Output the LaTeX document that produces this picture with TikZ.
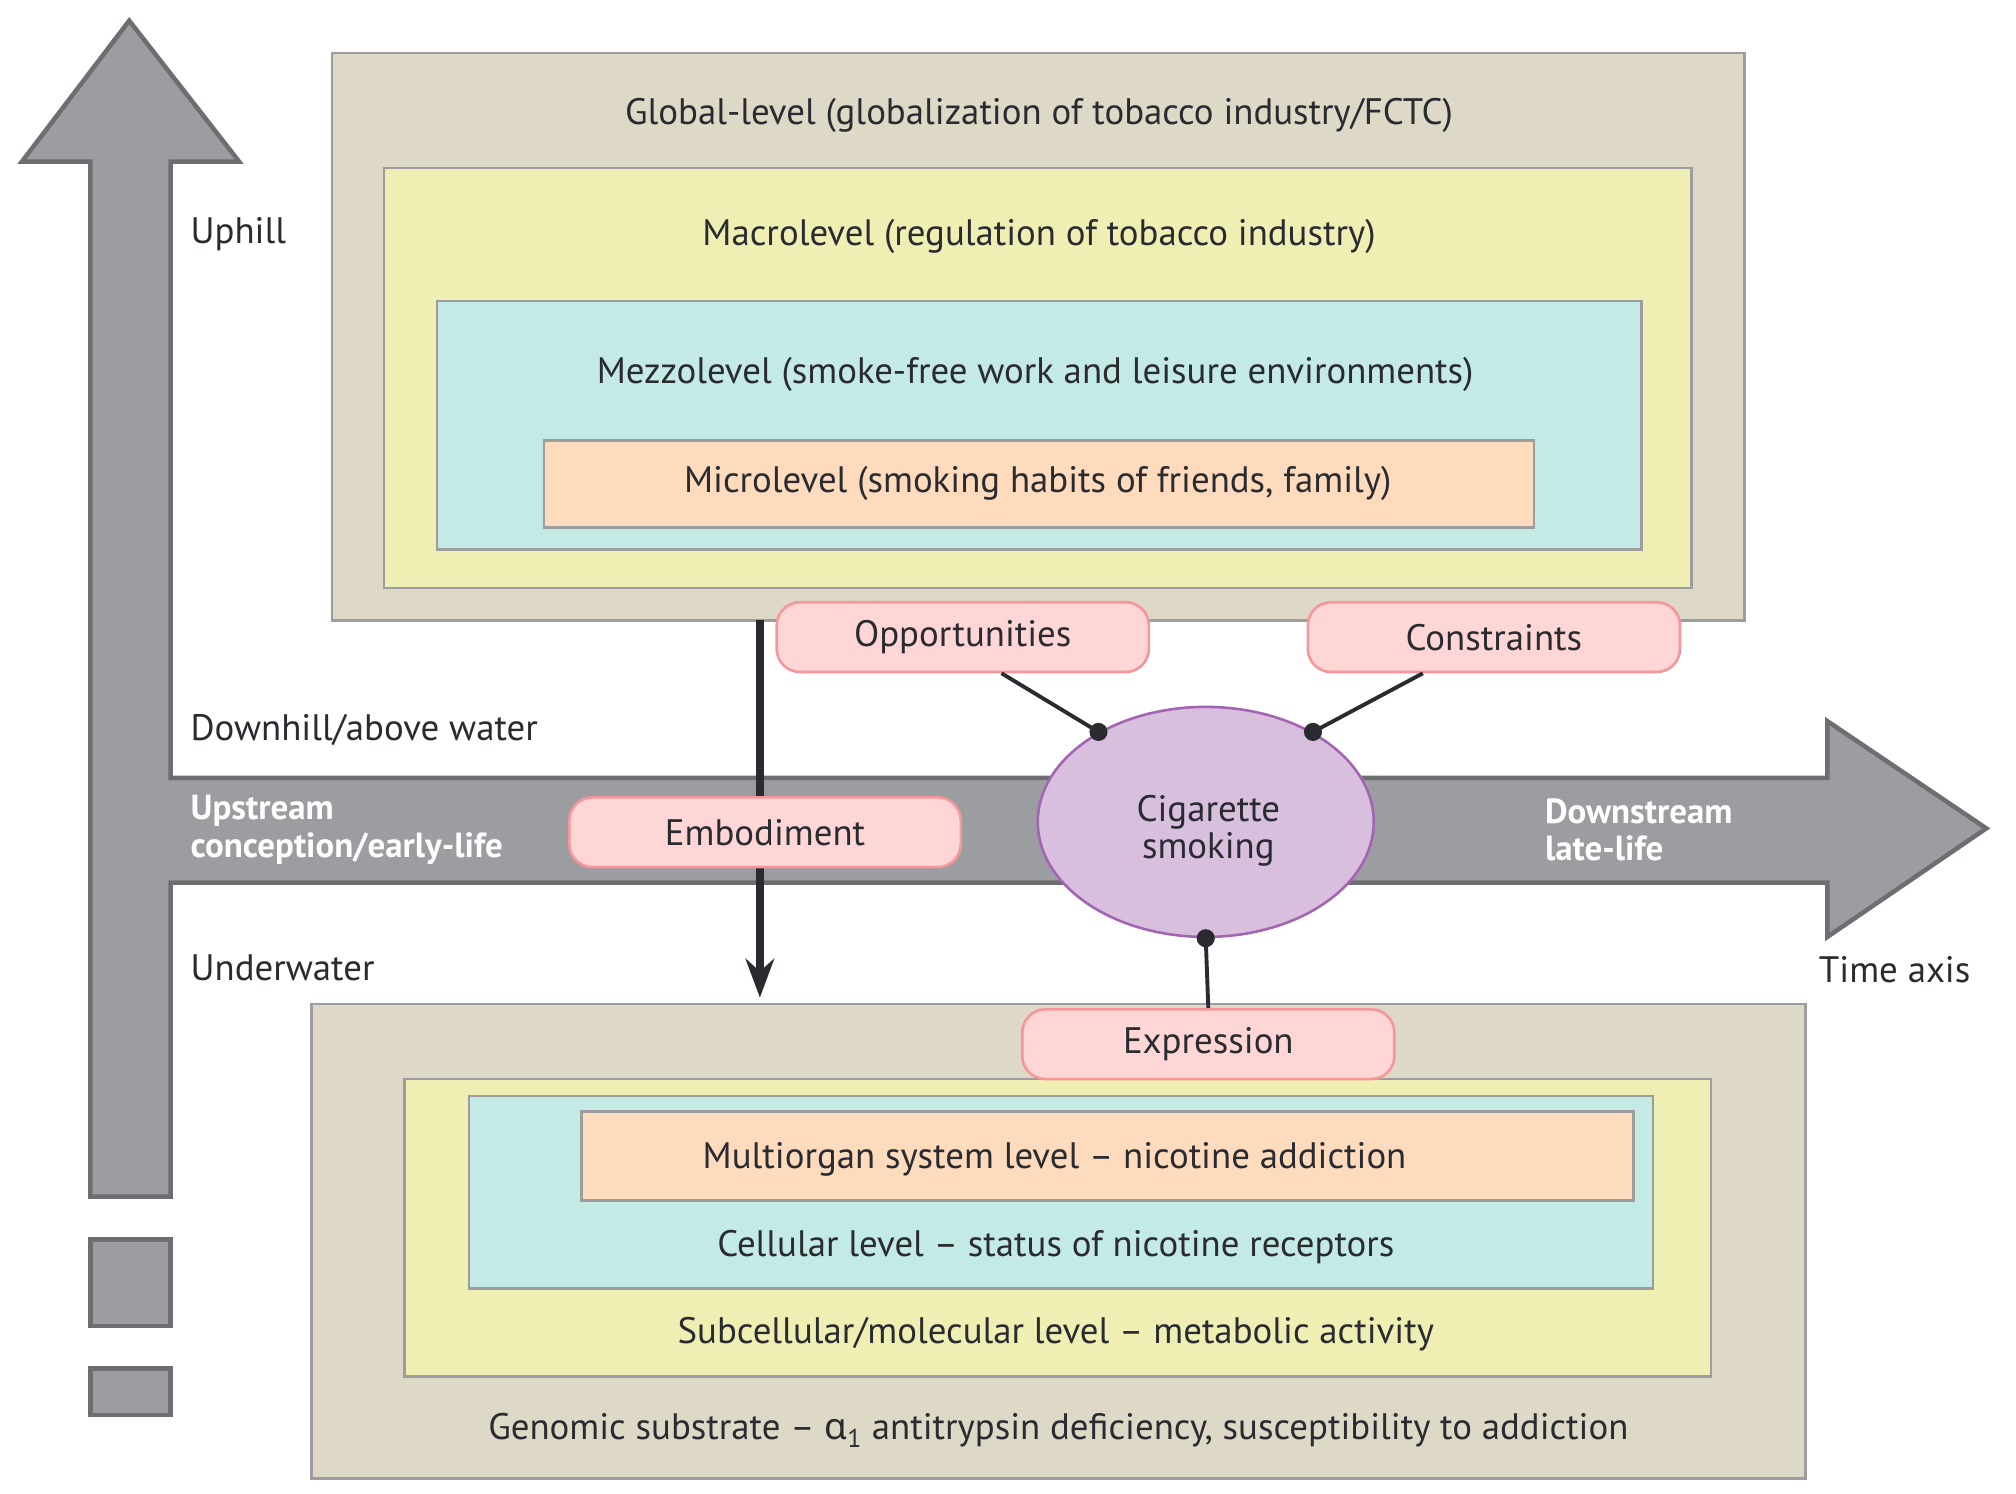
\documentclass[tikz,border=0pt]{standalone}
\usepackage{fontspec}
\setmainfont{PT Sans}
\newfontfamily\grkfont{Noto Sans}
\usepackage{tikz}
\usetikzlibrary{arrows.meta,shapes.geometric}
\definecolor{axisfill}{HTML}{9C9DA1}
\definecolor{axisline}{HTML}{6D6E71}
\definecolor{boxline}{HTML}{9D9D9F}
\definecolor{tanbox}{HTML}{DED8C7}
\definecolor{yellowbox}{HTML}{F0EFB3}
\definecolor{cyanbox}{HTML}{C4EAE6}
\definecolor{peachbox}{HTML}{FDDBBC}
\definecolor{pillfill}{HTML}{FED6D5}
\definecolor{pillline}{HTML}{F7969A}
\definecolor{smokefill}{HTML}{D8BFDD}
\definecolor{smokeline}{HTML}{A464B4}
\definecolor{inkdark}{HTML}{2A2B31}

\begin{document}
\begin{tikzpicture}[x=1pt,y=-1pt,
  every node/.style={font=\fontsize{28.5}{29}\selectfont, text=inkdark},
  levelbox/.style={draw=boxline, line width=2pt, anchor=north west, inner sep=0pt, outer sep=0pt},
  pill/.style={draw=pillline, fill=pillfill, line width=2pt, rounded corners=18pt,
    minimum width=288pt, minimum height=54pt, inner sep=0pt},
  axislabel/.style={anchor=west, align=left, text=white, font=\fontsize{27}{29}\selectfont\bfseries},
  sidelabel/.style={anchor=west},
  link/.style={draw=inkdark, line width=3pt},
  dot/.style={circle, fill=inkdark, inner sep=0pt, minimum size=14pt}]
\useasboundingbox (0,0) rectangle (1560,1156);

% axes
\draw[fill=axisfill, draw=axisline, line width=3.5pt, line join=miter]
  (70,926) -- (70,125) -- (17,125) -- (100,16) -- (185,125) -- (132,125) -- (132,602)
  -- (1414,602) -- (1414,558) -- (1537,641) -- (1414,725) -- (1414,683) -- (132,683)
  -- (132,926) -- cycle;
\draw[fill=axisfill, draw=axisline, line width=3.5pt] (70,959) rectangle (132,1026);
\draw[fill=axisfill, draw=axisline, line width=3.5pt] (70,1059) rectangle (132,1095);

% upper levels
\node[levelbox, fill=tanbox, minimum width=1093pt, minimum height=439pt] (global) at (257,41) {};
\node[levelbox, fill=yellowbox, minimum width=1012pt, minimum height=325pt] (macro) at (297,130) {};
\node[levelbox, fill=cyanbox, minimum width=932pt, minimum height=192pt] (mezzo) at (338,233) {};
\node[levelbox, fill=peachbox, minimum width=766pt, minimum height=67pt] (micro) at (421,341) {};
\node (globaltxt) at (804,89) {Global-level (globalization of tobacco industry/FCTC)};
\node (macrotxt) at (804,183) {Macrolevel (regulation of tobacco industry)};
\node (mezzotxt) at (801,290) {Mezzolevel (smoke-free work and leisure environments)};
\node (microtxt) at (803,374) {Microlevel (smoking habits of friends, family)};

% lower levels
\node[levelbox, fill=tanbox, minimum width=1156pt, minimum height=367pt] (genomic) at (241,777) {};
\node[levelbox, fill=yellowbox, minimum width=1011pt, minimum height=230pt] (subcell) at (313,835) {};
\node[levelbox, fill=cyanbox, minimum width=916pt, minimum height=149pt] (cellular) at (363,848) {};
\node[levelbox, fill=peachbox, minimum width=814pt, minimum height=69pt] (multiorgan) at (450,860) {};
\node (multiorgantxt) at (816,897) {Multiorgan system level -- nicotine addiction};
\node (cellulartxt) at (817,965) {Cellular level -- status of nicotine receptors};
\node (subcelltxt) at (817,1032) {Subcellular/molecular level -- metabolic activity};
\node (genomictxt) at (819,1107) {Genomic substrate -- {\grkfont α}\textsubscript{1} antitrypsin deficiency, susceptibility to addiction};

% side labels
\node[sidelabel] (uphill) at (144,181) {Uphill};
\node[sidelabel] (downhill) at (144,565) {Downhill/above water};
\node[sidelabel] (underwater) at (144,749) {Underwater};
\node[sidelabel] (timeaxis) at (1404,750) {Time axis};
\node[axislabel] (upstream) at (144,642) {Upstream\\conception/early-life};
\node[axislabel] (downstream) at (1192,642) {Downstream\\late-life};

% embodiment
\coordinate (embtop) at (588,480);
\draw[draw=inkdark, line width=6pt, -{Stealth[length=30pt,width=22pt]}, shorten >=5pt]
  (embtop) -- (embtop |- genomic.north);
\node[pill, minimum width=303pt] (embod) at (592,644) {Embodiment};

% smoking
\node[ellipse, draw=smokeline, fill=smokefill, line width=2pt, minimum width=260pt,
  minimum height=178pt] (smoking) at (933,636) {};
\node[align=center] (smoketxt) at (935,643) {Cigarette\\smoking};
\node[pill] (opport) at (745,493) {Opportunities};
\node[pill] (constr) at (1156,493) {Constraints};
\node[pill] (express) at (935,808) {Expression};
\draw[link] ([xshift=30pt]opport.south) -- (smoking.140);
\draw[link] ([xshift=-55pt]constr.south) -- (smoking.40);
\draw[link] (smoking.south) -- (express.north);
\node[dot] (dotopp) at (smoking.140) {};
\node[dot] (dotcon) at (smoking.40) {};
\node[dot] (dotexp) at (smoking.south) {};
\end{tikzpicture}
\end{document}
